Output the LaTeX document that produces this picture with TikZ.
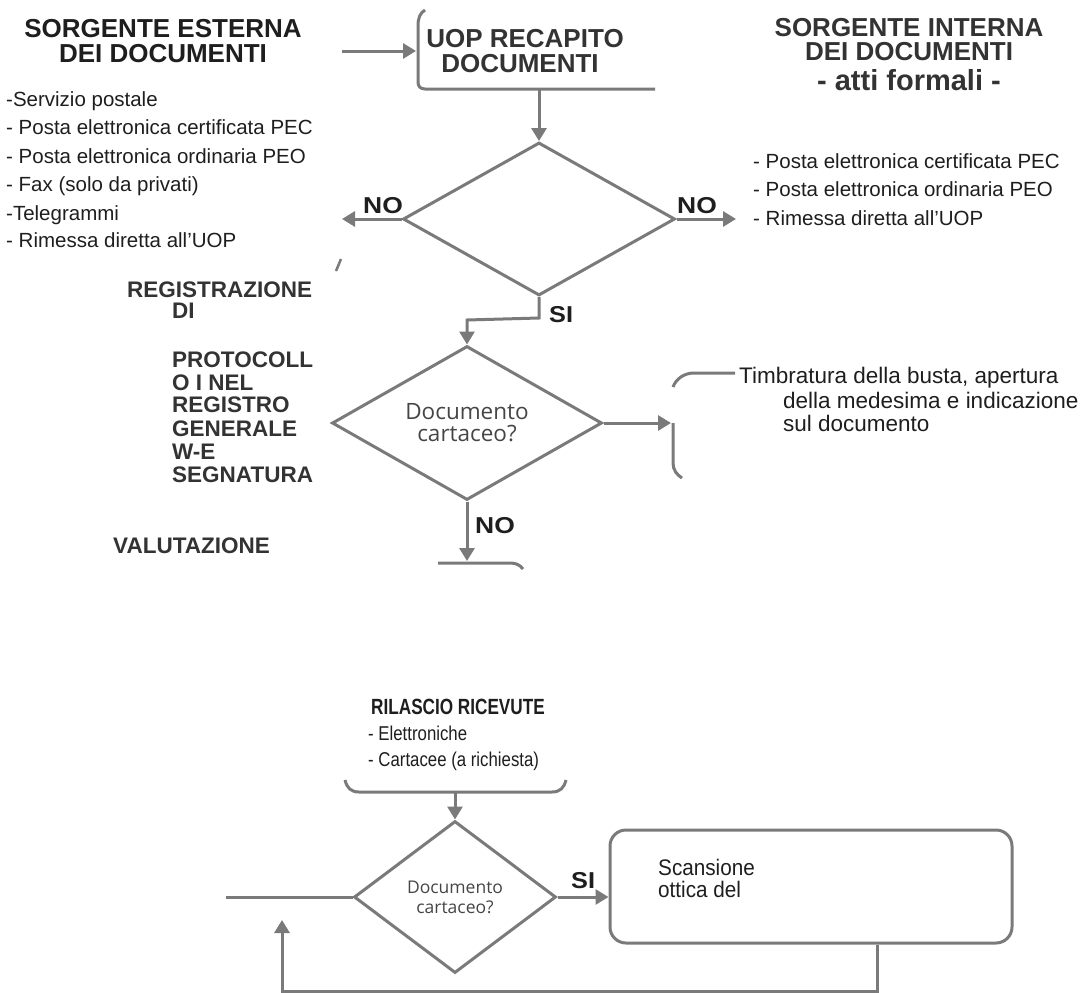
\documentclass[tikz,border=0pt]{standalone}
\usepackage{fontspec}
\usepackage{graphicx}
\setmainfont{Liberation Sans}
\newfontfamily\osfont{Open Sans}
\usetikzlibrary{arrows.meta,shapes.geometric}
\definecolor{ln}{HTML}{7A7A7A}
\definecolor{tx}{HTML}{1E1E1E}
\definecolor{tg}{HTML}{333333}
\definecolor{dt}{HTML}{454545}
\tikzset{
  seg/.style={draw=ln, line width=3pt},
  conn/.style={seg, -{Triangle[width=15pt,length=13pt]}},
  dia/.style={diamond, draw=ln, line width=3pt, inner sep=0pt, aspect=1.75, text=dt, align=center},
  lt/.style={inner sep=0pt, anchor=base west, text=tx, font=\fontsize{20.5}{24}\selectfont},
  hd/.style={inner sep=0pt, anchor=base, text=tx, font=\fontsize{26}{26}\selectfont\bfseries},
  bl/.style={inner sep=0pt, anchor=base west, text=tg, font=\fontsize{22.5}{22}\selectfont\bfseries},
  lab/.style={inner sep=0pt, anchor=base west, text=tx, font=\fontsize{23}{23}\selectfont\bfseries},
}
\begin{document}
\begin{tikzpicture}[x=1pt,y=-1pt]
\path[use as bounding box] (0,0) rectangle (1087,993);

% ---------- top-left heading and list
\node[hd] (he1) at (163,37) {SORGENTE ESTERNA};
\node[hd] (he2) at (163,62) {DEI DOCUMENTI};
\node[lt] (le1) at (6,106) {-Servizio postale};
\node[lt] (le2) at (6,134.5) {- Posta elettronica certificata PEC};
\node[lt] (le3) at (6,163) {- Posta elettronica ordinaria PEO};
\node[lt] (le4) at (6,191.5) {- Fax (solo da privati)};
\node[lt] (le5) at (6,220) {-Telegrammi};
\node[lt] (le6) at (6,247.5) {- Rimessa diretta all'UOP};

% ---------- top-right heading and list
\node[hd,text=tg] (hi1) at (909,36) {SORGENTE INTERNA};
\node[hd,text=tg] (hi2) at (909,60) {DEI DOCUMENTI};
\node[hd,text=tg,font=\fontsize{29}{29}\selectfont\bfseries] (hi3) at (909,90) {- atti formali -};
\node[lt] (ri1) at (753,168) {- Posta elettronica certificata PEC};
\node[lt] (ri2) at (753,196.5) {- Posta elettronica ordinaria PEO};
\node[lt] (ri3) at (753,225) {- Rimessa diretta all'UOP};

% ---------- UOP box (partial)
\draw[seg] (425,10) .. controls (420,13) and (418,18) .. (418,26) -- (418,82)
  .. controls (418,86) and (420,89) .. (425,89) -- (655,89);
\node[hd,text=tg] (uop1) at (525,47) {UOP RECAPITO};
\node[hd,text=tg] (uop2) at (520,72) {DOCUMENTI};
\coordinate (inA) at (342,51);
\coordinate (inB) at (416,51);
\draw[conn] (inA) -- (inB);
\coordinate (uopb) at (539,89);

% ---------- first decision
\node[dia, minimum width=272pt, minimum height=153pt] (d1) at (539,219) {};
\draw[conn] (uopb) -- (d1.north);
\coordinate (noL) at (342,219);
\coordinate (noR) at (736,219);
\draw[conn] (d1.west) -- (noL);
\draw[conn] (d1.east) -- (noR);
\node[lab] (no1) at (363,213) {\scalebox{1.15}[1]{NO}};
\node[lab] (no2) at (677,213) {\scalebox{1.15}[1]{NO}};
\node[lab] (si1) at (549,322) {\scalebox{1.1}[1]{SI}};
\draw[seg, line width=2.5pt] (336,271) -- (341,259);

% ---------- left bold text
\node[bl] (rg1) at (127,297) {REGISTRAZIONE};
\node[bl] (rg2) at (172,318) {DI};
\node[bl] (rg3) at (172,367) {PROTOCOLL};
\node[bl] (rg4) at (172,390) {O I NEL};
\node[bl] (rg5) at (172,412) {REGISTRO};
\node[bl] (rg6) at (172,436) {GENERALE};
\node[bl] (rg7) at (172,459) {W-E};
\node[bl] (rg8) at (172,482) {SEGNATURA};
\node[bl] (val) at (113,553) {VALUTAZIONE};

% ---------- second decision
\node[dia, minimum width=270pt, minimum height=154pt,
      font=\osfont\fontsize{22.5}{22}\selectfont] (d2) at (467,423) {Documento\\cartaceo?};
\draw[conn] (d1.south) -- ++(0,21) -- (467,320) -- (d2.north);
\coordinate (brk) at (671,423);
\draw[conn] (d2.east) -- (brk);
\draw[seg] (673,387) .. controls (676,379) and (684,373) .. (694,373) -- (735,373);
\draw[seg] (673,423) -- (673,463) .. controls (673,470) and (677,475) .. (682,478);
\node[lt,font=\fontsize{22.5}{24}\selectfont] (tb1) at (739,383) {Timbratura della busta, apertura};
\node[lt,font=\fontsize{22.5}{24}\selectfont] (tb2) at (783,408) {della medesima e indicazione};
\node[lt,font=\fontsize{22.5}{24}\selectfont] (tb3) at (783,431) {sul documento};
\coordinate (nob) at (467,561);
\draw[conn] (d2.south) -- (nob);
\node[lab] (no3) at (475,533) {\scalebox{1.15}[1]{NO}};
\draw[seg] (438,563) -- (510,563) .. controls (516,563) and (520,565) .. (523,569);

% ---------- receipts
\node[hd,font=\fontsize{22}{22}\selectfont\bfseries] (ril) at (458,714) {\scalebox{0.78}[1]{RILASCIO RICEVUTE}};
\node[lt,font=\fontsize{20}{24}\selectfont] (ri4) at (368,740) {\scalebox{0.84}[1]{- Elettroniche}};
\node[lt,font=\fontsize{20}{24}\selectfont] (ri5) at (368,766) {\scalebox{0.84}[1]{- Cartacee (a richiesta)}};
\draw[seg] (345,780) .. controls (347,788) and (351,792) .. (359,792) -- (552,792)
  .. controls (560,792) and (564,788) .. (566,780);
\coordinate (rb) at (455,792);

% ---------- third decision
\node[dia, minimum width=202pt, minimum height=152pt,
      font=\osfont\fontsize{17.5}{20}\selectfont] (d3) at (455,897) {Documento\\cartaceo?};
\draw[conn] (rb) -- (d3.north);
\coordinate (lft) at (226,897);
\draw[seg] (lft) -- (d3.west);
\node[draw=ln, line width=3pt, rounded corners=16pt, minimum width=402pt, minimum height=113pt] (scan) at (811,886.5) {};
\draw[conn] (d3.east) -- (d3.east -| scan.west);
\node[lab] (si2) at (571,888) {\scalebox{1.1}[1]{SI}};
\node[lt,font=\fontsize{22.5}{22}\selectfont] (sc1) at (658,875) {\scalebox{0.92}[1]{Scansione}};
\node[lt,font=\fontsize{22.5}{22}\selectfont] (sc2) at (658,897) {\scalebox{0.92}[1]{ottica del}};
\coordinate (ret) at (282,920);
\draw[conn] ([xshift=66pt]scan.south) -- ++(0,47) -| (ret);
\end{tikzpicture}
\end{document}
